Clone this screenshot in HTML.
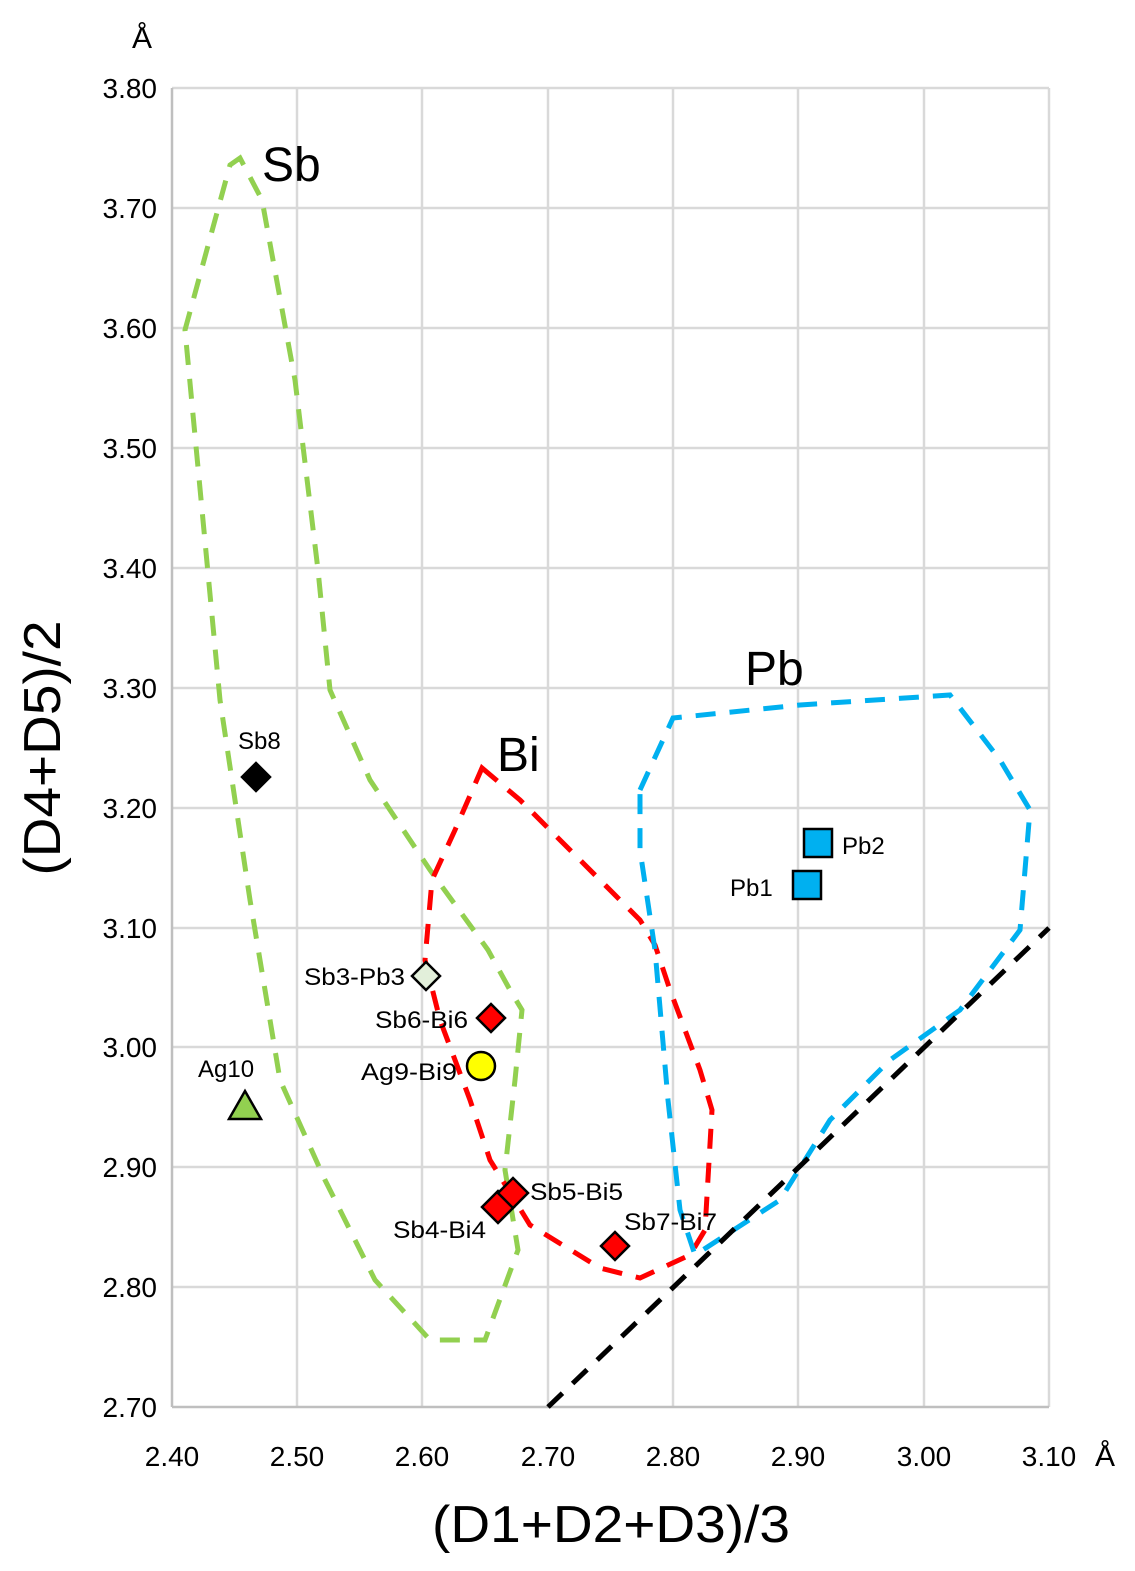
<!DOCTYPE html>
<html><head><meta charset="utf-8"><style>
body{margin:0;background:#fff}
text{font-family:"Liberation Sans",sans-serif;fill:#000}
</style></head><body>
<svg width="1135" height="1566" xmlns="http://www.w3.org/2000/svg">
<g stroke="#d9d9d9" stroke-width="2.5">
<line x1="297" y1="88" x2="297" y2="1407"/><line x1="422" y1="88" x2="422" y2="1407"/>
<line x1="548" y1="88" x2="548" y2="1407"/><line x1="673" y1="88" x2="673" y2="1407"/>
<line x1="798" y1="88" x2="798" y2="1407"/><line x1="924" y1="88" x2="924" y2="1407"/>
<line x1="1049" y1="88" x2="1049" y2="1407"/>
<line x1="172" y1="88" x2="1049" y2="88"/><line x1="172" y1="208" x2="1049" y2="208"/>
<line x1="172" y1="328" x2="1049" y2="328"/><line x1="172" y1="448" x2="1049" y2="448"/>
<line x1="172" y1="568" x2="1049" y2="568"/><line x1="172" y1="688" x2="1049" y2="688"/>
<line x1="172" y1="808" x2="1049" y2="808"/><line x1="172" y1="928" x2="1049" y2="928"/>
<line x1="172" y1="1047" x2="1049" y2="1047"/><line x1="172" y1="1167" x2="1049" y2="1167"/>
<line x1="172" y1="1287" x2="1049" y2="1287"/>
</g>
<g stroke="#bfbfbf" stroke-width="2.5"><line x1="172" y1="88" x2="172" y2="1407"/><line x1="172" y1="1407" x2="1049" y2="1407"/></g>
<g font-size="28" text-anchor="end">
<text x="157" y="98">3.80</text><text x="157" y="218">3.70</text><text x="157" y="338">3.60</text>
<text x="157" y="458">3.50</text><text x="157" y="578">3.40</text><text x="157" y="698">3.30</text>
<text x="157" y="818">3.20</text><text x="157" y="938">3.10</text><text x="157" y="1057">3.00</text>
<text x="157" y="1177">2.90</text><text x="157" y="1297">2.80</text><text x="157" y="1417">2.70</text>
</g>
<g font-size="28" text-anchor="middle">
<text x="172" y="1466">2.40</text><text x="297" y="1466">2.50</text><text x="422" y="1466">2.60</text>
<text x="548" y="1466">2.70</text><text x="673" y="1466">2.80</text><text x="798" y="1466">2.90</text>
<text x="924" y="1466">3.00</text><text x="1049" y="1466">3.10</text>
<text x="1105" y="1466" font-size="30">Å</text>
<text x="142" y="48" font-size="30">Å</text>
<text x="611" y="1542" font-size="52" textLength="358" lengthAdjust="spacingAndGlyphs">(D1+D2+D3)/3</text>
<text transform="translate(60,748) rotate(-90)" font-size="52" textLength="255" lengthAdjust="spacingAndGlyphs">(D4+D5)/2</text>
</g>
<g fill="none" stroke-width="5" stroke-dasharray="20,14">
<polygon stroke="#92d050" points="230,165 240,158 262,200 295,380 318,570 330,690 370,780 430,870 488,950 510,990 522,1010 515,1080 505,1170 518,1250 485,1340 430,1340 375,1280 325,1180 280,1080 250,900 220,700 185,330"/>
<polygon stroke="#ff0000" points="482,768 520,800 640,920 655,945 670,990 700,1070 712,1110 705,1230 690,1255 640,1278 600,1268 530,1225 490,1160 470,1100 440,1020 425,960 432,880 455,830"/>
<polygon stroke="#00b0f0" points="640,790 673,718 800,705 950,695 1000,760 1030,810 1020,930 960,1010 890,1060 830,1120 780,1200 695,1255 680,1210 668,1100 655,950 640,850"/>
<line x1="548" y1="1407" x2="1049" y2="928" stroke="#000"/>
</g>
<g font-size="48"><text x="262" y="181">Sb</text><text x="497" y="771">Bi</text><text x="745" y="685">Pb</text></g>
<g stroke="#000" stroke-width="2.5">
<polygon points="256,763 270,777 256,791 242,777" fill="#000"/>
<rect x="804" y="829" width="28" height="28" fill="#00b0f0"/>
<rect x="793" y="871" width="28" height="28" fill="#00b0f0"/>
<polygon points="426,962 440,976 426,990 412,976" fill="#e2efda"/>
<polygon points="491,1004 505,1018 491,1032 477,1018" fill="#ff0000"/>
<circle cx="481" cy="1066" r="14" fill="#ffff00"/>
<polygon points="245,1091 261,1119 229,1119" fill="#92d050"/>
<polygon points="498,1191 514,1207 498,1223 482,1207" fill="#ff0000"/>
<polygon points="513,1178 528,1193 513,1208 498,1193" fill="#ff0000"/>
<polygon points="615,1232 629,1246 615,1260 601,1246" fill="#ff0000"/>
</g>
<g font-size="24">
<text x="238" y="749">Sb8</text><text x="842" y="854">Pb2</text><text x="730" y="896">Pb1</text>
<text x="304" y="985" textLength="101" lengthAdjust="spacingAndGlyphs">Sb3-Pb3</text>
<text x="375" y="1028" textLength="93" lengthAdjust="spacingAndGlyphs">Sb6-Bi6</text>
<text x="361" y="1080" textLength="96" lengthAdjust="spacingAndGlyphs">Ag9-Bi9</text>
<text x="198" y="1077">Ag10</text>
<text x="530" y="1200" textLength="93" lengthAdjust="spacingAndGlyphs">Sb5-Bi5</text>
<text x="393" y="1238" textLength="93" lengthAdjust="spacingAndGlyphs">Sb4-Bi4</text>
<text x="624" y="1230" textLength="93" lengthAdjust="spacingAndGlyphs">Sb7-Bi7</text>
</g>
</svg>
</body></html>
